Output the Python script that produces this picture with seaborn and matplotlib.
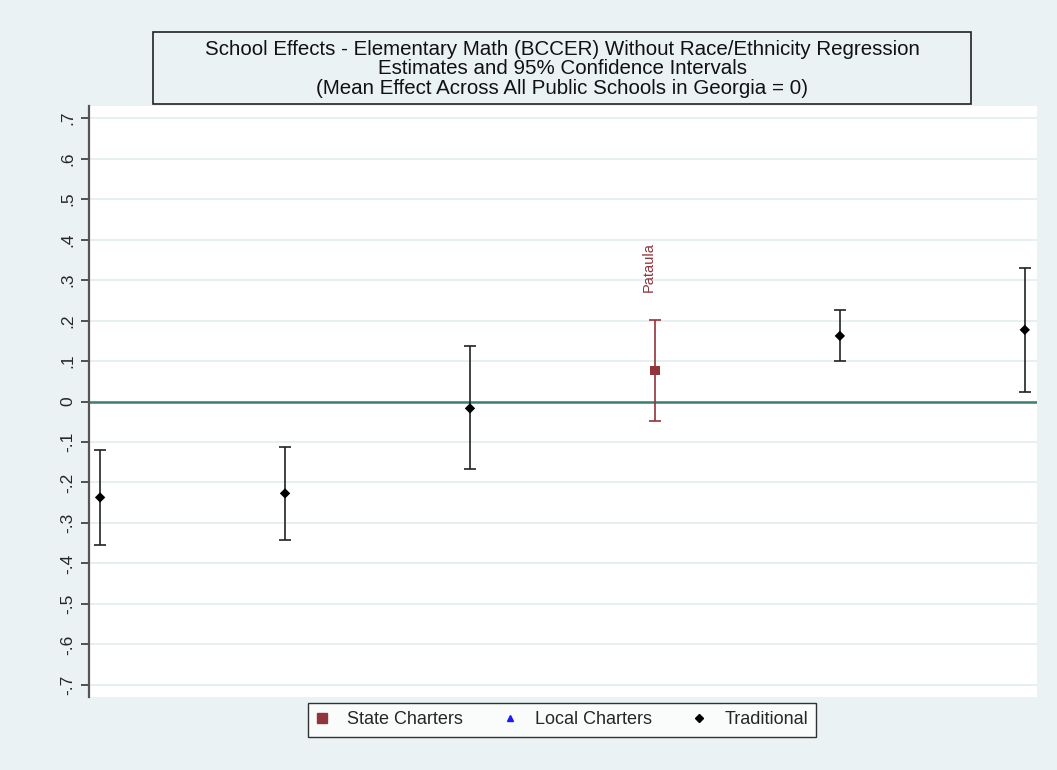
import matplotlib
matplotlib.use("Agg")
import matplotlib.pyplot as plt
from matplotlib.lines import Line2D
from matplotlib.patches import Rectangle
import seaborn as sns
import pandas as pd

# School estimates, ordered by rank
rank = [1, 2, 3, 4, 5, 6]
school_type = ["Traditional", "Traditional", "Traditional", "State Charters", "Traditional", "Traditional"]
estimate = [-0.237, -0.227, -0.017, 0.076, 0.162, 0.177]
ci_low = [-0.354, -0.343, -0.167, -0.048, 0.099, 0.024]
ci_high = [-0.119, -0.113, 0.137, 0.202, 0.225, 0.331]
school_name = ["", "", "", "Pataula", "", ""]

y_ticks = [-0.7, -0.6, -0.5, -0.4, -0.3, -0.2, -0.1, 0, 0.1, 0.2, 0.3, 0.4, 0.5, 0.6, 0.7]
y_labels = ["-.7", "-.6", "-.5", "-.4", "-.3", "-.2", "-.1", "0", ".1", ".2", ".3", ".4", ".5", ".6", ".7"]
legend_labels = ["State Charters", "Local Charters", "Traditional"]

title_lines = [
    "School Effects - Elementary Math (BCCER) Without Race/Ethnicity Regression",
    "Estimates and 95% Confidence Intervals",
    "(Mean Effect Across All Public Schools in Georgia = 0)",
]

df = pd.DataFrame({"rank": rank, "type": school_type, "est": estimate,
                   "lo": ci_low, "hi": ci_high, "name": school_name})

bg = "#eaf2f3"
maroon = "#90353b"
colors = {"State Charters": maroon, "Local Charters": "#1a1aff", "Traditional": "black"}
markers = {"State Charters": "s", "Local Charters": "^", "Traditional": "D"}

sns.set_theme(style="white")
plt.rcParams["font.family"] = ["Liberation Sans", "DejaVu Sans"]

fig = plt.figure(figsize=(10.57, 7.70), dpi=100, facecolor=bg)
ax = fig.add_axes([89 / 1057, 1 - 697 / 770, (1037 - 89) / 1057, (697 - 106) / 770])
ax.set_facecolor("white")

# grid and zero line
for t in y_ticks:
    ax.axhline(t, color="#e6eef0", lw=1.3, zorder=0)
ax.axhline(0, color="#3e7d74", lw=1.8, zorder=1)

# confidence intervals
for _, r in df.iterrows():
    c = maroon if r["type"] == "State Charters" else "#222222"
    ax.errorbar(r["rank"], r["est"], yerr=[[r["est"] - r["lo"]], [r["hi"] - r["est"]]],
                fmt="none", ecolor=c, elinewidth=1.2, capsize=4, capthick=1.2, zorder=2)

# point estimates
sns.scatterplot(data=df, x="rank", y="est", hue="type", style="type",
                palette=colors, markers=markers, s=40, linewidth=0,
                legend=False, ax=ax, zorder=3)
ax.collections[-1].set_sizes([45 if t == "State Charters" else 28 for t in df["type"]])

# school labels
for _, r in df.iterrows():
    if r["name"]:
        ax.annotate(r["name"], (r["rank"], r["hi"]), xytext=(-4.5, 20),
                    textcoords="offset points", rotation=90, ha="center", va="bottom",
                    color=maroon, fontsize=10.5)

ax.set_xlim(0.94, 6.066)
ax.set_ylim(-0.73, 0.73)
ax.set_xticks([])
ax.set_yticks(y_ticks)
ax.set_yticklabels(y_labels, rotation=90, va="center", fontsize=12.5)
ax.tick_params(axis="y", direction="out", length=6, width=1.3, color="#444444", pad=4, left=True)
ax.set_xlabel("")
ax.set_ylabel("")
for s in ["top", "right", "bottom"]:
    ax.spines[s].set_visible(False)
ax.spines["left"].set_color("#555555")
ax.spines["left"].set_linewidth(1.6)

# title box
fig.patches.append(Rectangle((153 / 1057, 1 - 104 / 770), (971 - 153) / 1057, (104 - 32) / 770,
                             transform=fig.transFigure, facecolor=bg, edgecolor="#222222", lw=1.2))
for i, line in enumerate(title_lines):
    fig.text(562 / 1057, 1 - (49.5 + 19.5 * i) / 770, line, ha="center", va="center",
             fontsize=14.8, color="#111111")

# legend
handles = [Line2D([], [], ls="none", marker=markers[k], color=colors[k],
                  markersize=7 if k == "State Charters" else (5 if k == "Local Charters" else 4.5))
           for k in legend_labels]
leg = fig.legend(handles, legend_labels, loc="center", bbox_to_anchor=(562 / 1057, 1 - 720 / 770),
                 ncol=3, frameon=True, fontsize=13, handlelength=0.6, handletextpad=1.1,
                 columnspacing=2.3, borderpad=0.45, fancybox=False)
leg.get_frame().set_edgecolor("black")
leg.get_frame().set_linewidth(1.0)
leg.get_frame().set_facecolor("white")

fig.savefig("out.png", dpi=100, facecolor=bg)
